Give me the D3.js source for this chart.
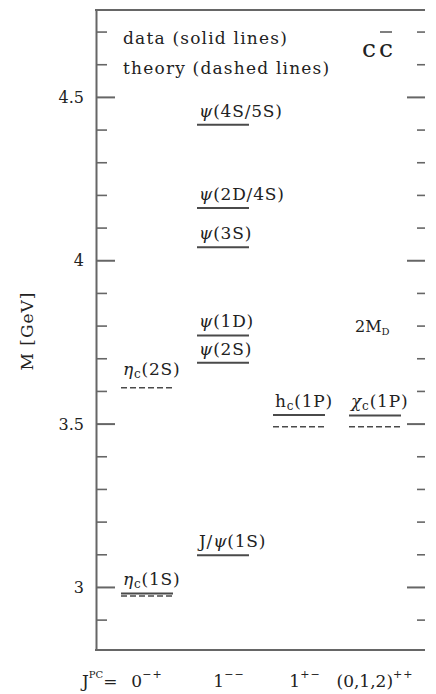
<!DOCTYPE html>
<html><head><meta charset="utf-8">
<script src="https://cdn.jsdelivr.net/npm/d3@7"></script>
<style>
body{margin:0;background:#fff;}
text{font-family:"DejaVu Serif","Liberation Serif",serif;fill:#222;}
</style></head>
<body><svg id="c" width="436" height="694"></svg>
<script>
// ---- data ----
const categories = ["0-+", "1--", "1+-", "(0,1,2)++"];
// measured states (solid lines)
const dataNames  = ["eta_c(1S)", "J/psi(1S)", "psi(2S)", "psi(1D)", "psi(3S)", "psi(2D/4S)", "psi(4S/5S)", "h_c(1P)", "chi_c(1P)"];
const dataCols   = ["0-+", "1--", "1--", "1--", "1--", "1--", "1--", "1+-", "(0,1,2)++"];
const dataMass   = [2.980, 3.097, 3.686, 3.770, 4.040, 4.160, 4.415, 3.526, 3.525];
// theory (dashed lines)
const theoryCols = ["0-+", "0-+", "1+-", "(0,1,2)++"];
const theoryMass = [2.972, 3.610, 3.490, 3.490];
// labels
const labelNames = ["eta_c(1S)", "eta_c(2S)", "J/psi(1S)", "psi(2S)", "psi(1D)", "psi(3S)", "psi(2D/4S)", "psi(4S/5S)", "h_c(1P)", "chi_c(1P)"];
const labelCols  = ["0-+", "0-+", "1--", "1--", "1--", "1--", "1--", "1--", "1+-", "(0,1,2)++"];
const labelMass  = [2.980, 3.610, 3.097, 3.686, 3.770, 4.040, 4.160, 4.415, 3.526, 3.525];
const majorTicks = [3, 3.5, 4, 4.5];
const minorTicks = [2.9, 3.1, 3.2, 3.3, 3.4, 3.6, 3.7, 3.8, 3.9, 4.1, 4.2, 4.3, 4.4, 4.6, 4.7];
const yDomain = [2.807, 4.766];
const twoMD = 3.79;

const svg = d3.select("#c");
const L = 96, R = 425, T = 10, B = 650;
const y = d3.scaleLinear().domain(yDomain).range([B, T]);
const x = d3.scaleBand().domain(categories).range([109, 413]).paddingInner(0.316).paddingOuter(0.158);
const frameCol = "#666", lineCol = "#4a4a4a";

// axes (ticks point inward)
const gL = svg.append("g").attr("transform", `translate(${L},0)`)
  .call(d3.axisRight(y).tickValues(majorTicks).tickSize(19).tickSizeOuter(0).tickFormat(""));
gL.select(".domain").attr("stroke", frameCol).attr("stroke-width", 2);
gL.selectAll(".tick line").attr("stroke", frameCol).attr("stroke-width", 2);
const gLm = svg.append("g").attr("transform", `translate(${L},0)`)
  .call(d3.axisRight(y).tickValues(minorTicks).tickSize(11).tickFormat(""));
gLm.select(".domain").remove();
gLm.selectAll(".tick line").attr("stroke", frameCol).attr("stroke-width", 1.6);

const gR = svg.append("g").attr("transform", `translate(${R},0)`)
  .call(d3.axisLeft(y).tickValues(majorTicks).tickSize(18).tickFormat(""));
gR.select(".domain").remove();
gR.selectAll(".tick line").attr("stroke", frameCol).attr("stroke-width", 2);
const gRm = svg.append("g").attr("transform", `translate(${R},0)`)
  .call(d3.axisLeft(y).tickValues(minorTicks).tickSize(8).tickFormat(""));
gRm.select(".domain").remove();
gRm.selectAll(".tick line").attr("stroke", frameCol).attr("stroke-width", 1.6);

// top & bottom frame
svg.append("line").attr("x1", L-1).attr("x2", R).attr("y1", T).attr("y2", T).attr("stroke", frameCol).attr("stroke-width", 2);
svg.append("line").attr("x1", L-1).attr("x2", R).attr("y1", B).attr("y2", B).attr("stroke", frameCol).attr("stroke-width", 2);

// tick labels
svg.append("g").selectAll("text").data(majorTicks).join("text")
  .attr("x", 84).attr("y", d => y(d) + 6).attr("text-anchor", "end")
  .attr("font-size", 16).text(d => d3.format("")(d));

// y label
svg.append("text").attr("transform", "translate(33,331) rotate(-90)")
  .attr("text-anchor", "middle").attr("font-size", 17).attr("letter-spacing", 1).text("M [GeV]");

// data levels
svg.append("g").selectAll("line").data(dataMass).join("line")
  .attr("x1", (d, i) => x(dataCols[i])).attr("x2", (d, i) => x(dataCols[i]) + x.bandwidth())
  .attr("y1", d => y(d)).attr("y2", d => y(d))
  .attr("stroke", lineCol).attr("stroke-width", 2);
// theory levels
svg.append("g").selectAll("line").data(theoryMass).join("line")
  .attr("x1", (d, i) => x(theoryCols[i])).attr("x2", (d, i) => x(theoryCols[i]) + x.bandwidth())
  .attr("y1", d => y(d)).attr("y2", d => y(d))
  .attr("stroke", lineCol).attr("stroke-width", 1.5).attr("stroke-dasharray", "6,3");

// labels
function writeLabel(t, name) {
  const m = name.match(/^(eta_c|J\/psi|psi|h_c|chi_c)(\(.*\))$/);
  const head = m[1], tail = m[2];
  if (head === "eta_c") { t.append("tspan").attr("font-style", "italic").text("η"); t.append("tspan").attr("font-size", 12).attr("dy", 3).text("c"); t.append("tspan").attr("dy", -3).text(tail); }
  else if (head === "chi_c") { t.append("tspan").attr("font-style", "italic").text("χ"); t.append("tspan").attr("font-size", 12).attr("dy", 3).text("c"); t.append("tspan").attr("dy", -3).text(tail); }
  else if (head === "h_c") { t.append("tspan").text("h"); t.append("tspan").attr("font-size", 12).attr("dy", 3).text("c"); t.append("tspan").attr("dy", -3).text(tail); }
  else if (head === "J/psi") { t.append("tspan").text("J/"); t.append("tspan").attr("font-style", "italic").text("ψ"); t.append("tspan").text(tail); }
  else { t.append("tspan").attr("font-style", "italic").text("ψ"); t.append("tspan").text(tail); }
}
labelNames.forEach((n, i) => {
  const t = svg.append("text").attr("x", x(labelCols[i]) + 2).attr("y", y(labelMass[i]) - (n === "eta_c(2S)" ? 13 : 8))
    .attr("font-size", 17).attr("letter-spacing", 0.8);
  writeLabel(t, n);
});

// legend
svg.append("text").attr("x", 123).attr("y", 44).attr("font-size", 17).attr("letter-spacing", 1.2).text("data (solid lines)");
svg.append("text").attr("x", 123).attr("y", 74).attr("font-size", 17).attr("letter-spacing", 1.2).text("theory (dashed lines)");
const cc = svg.append("text").attr("x", 362).attr("y", 57).attr("font-size", 25).attr("fill", "#444");
cc.append("tspan").text("c");
cc.append("tspan").attr("dx", 3).text("c");
svg.append("line").attr("x1", 380).attr("x2", 392).attr("y1", 32).attr("y2", 32).attr("stroke", "#555").attr("stroke-width", 1.5);

// 2M_D
const md = svg.append("text").attr("x", 355).attr("y", y(twoMD) + 3).attr("font-size", 16);
md.append("tspan").text("2M");
md.append("tspan").attr("font-size", 10).attr("dy", 3).text("D");

// bottom J^PC labels
const jp = svg.append("text").attr("x", 82).attr("y", 687).attr("font-size", 17);
jp.append("tspan").text("J");
jp.append("tspan").attr("font-size", 10).attr("dy", -9).text("PC");
jp.append("tspan").attr("dy", 9).text("=");
const jpc = [["0", "−+"], ["1", "−−"], ["1", "+−"], ["(0,1,2)", "++"]];
categories.forEach((c, i) => {
  const t = svg.append("text").attr("x", x(c) + x.bandwidth() / 2 + (i === 0 || i === 3 ? 0 : 6)).attr("y", 687).attr("font-size", 17).attr("text-anchor", "middle");
  t.append("tspan").text(jpc[i][0]);
  t.append("tspan").attr("font-size", 11).attr("dy", -9).attr("letter-spacing", 1).text(jpc[i][1]);
});
</script></body></html>
